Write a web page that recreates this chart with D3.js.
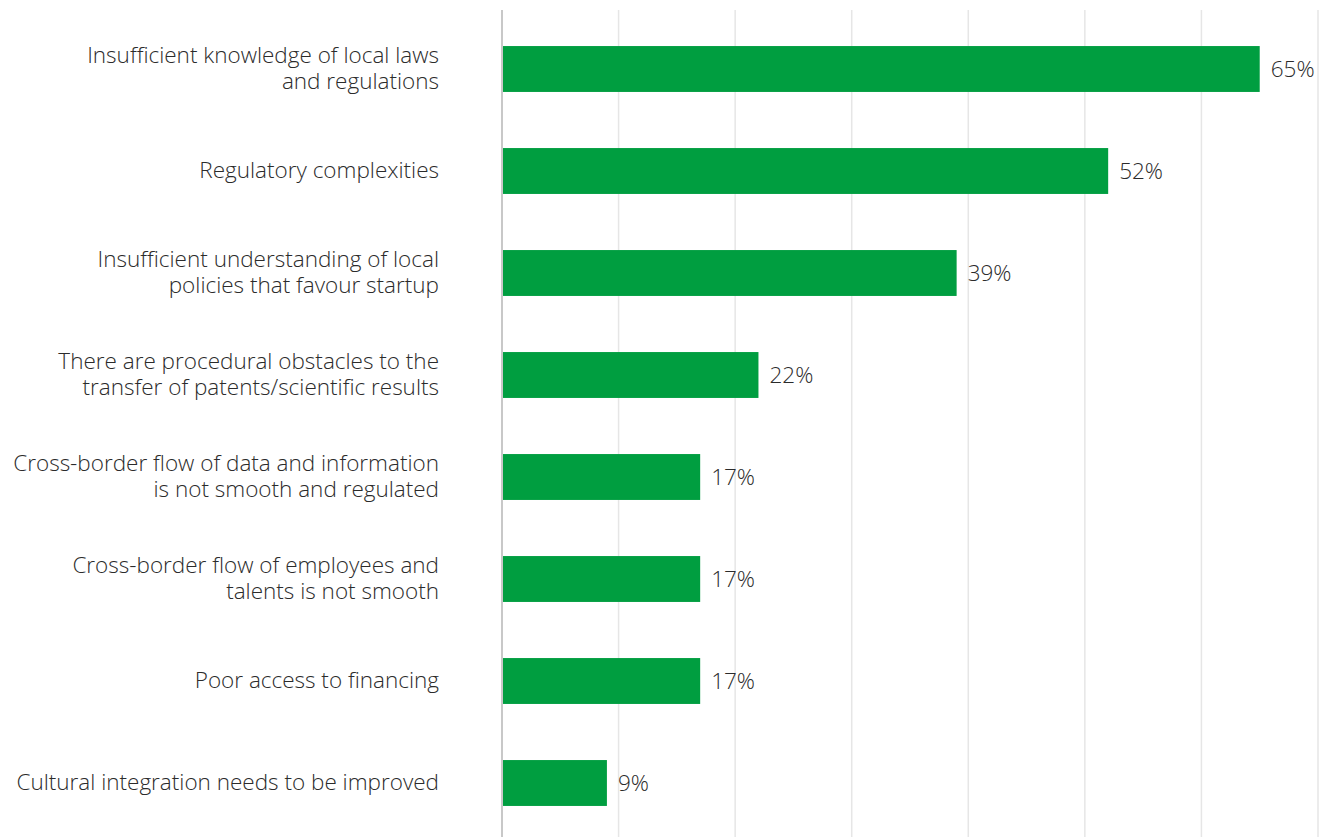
<!DOCTYPE html>
<html>
<head>
<meta charset="utf-8">
<script src="https://cdn.jsdelivr.net/npm/d3@7"></script>
<style>
  html, body { margin: 0; padding: 0; background: #fff; }
  svg { display: block; }
  text { font-family: "Open Sans", "Noto Sans", sans-serif; font-weight: 300; fill: #2b2b2b; }
</style>
</head>
<body>
<svg id="chart" width="1327" height="837"></svg>
<script>
// Obstacles reported, share of respondents (%)
const categories = [
  ["Insufficient knowledge of local laws", "and regulations"],
  ["Regulatory complexities"],
  ["Insufficient understanding of local", "policies that favour startup"],
  ["There are procedural obstacles to the", "transfer of patents/scientific results"],
  ["Cross-border flow of data and information", "is not smooth and regulated"],
  ["Cross-border flow of employees and", "talents is not smooth"],
  ["Poor access to financing"],
  ["Cultural integration needs to be improved"]
];
const values = [65, 52, 39, 22, 17, 17, 17, 9];
const gridTicks = [10, 20, 30, 40, 50, 60, 70];

const svg = d3.select("#chart");
const x0 = 502, x1 = 1318;
const fontPx = 22.5;

const x = d3.scaleLinear().domain([0, 70]).range([x0, x1]);
const y = d3.scaleBand()
  .domain(d3.range(categories.length))
  .range([18, 834])
  .paddingInner(0.55)
  .paddingOuter(0.275);

// vertical gridlines
svg.append("g")
  .selectAll("line")
  .data(gridTicks)
  .join("line")
  .attr("x1", d => x(d)).attr("x2", d => x(d))
  .attr("y1", 10).attr("y2", 837)
  .attr("stroke", "#e6e6e6")
  .attr("stroke-width", 1.5);

// bars
svg.append("g")
  .selectAll("rect")
  .data(values)
  .join("rect")
  .attr("x", x(0))
  .attr("y", (d, i) => y(i))
  .attr("width", d => x(d) - x(0))
  .attr("height", y.bandwidth())
  .attr("fill", "#009e40");

// baseline axis
svg.append("line")
  .attr("x1", x0).attr("x2", x0)
  .attr("y1", 10).attr("y2", 837)
  .attr("stroke", "#c8c8c8")
  .attr("stroke-width", 2);

// value labels
svg.append("g")
  .selectAll("text")
  .data(values)
  .join("text")
  .attr("x", d => x(d) + 11)
  .attr("y", (d, i) => y(i) + y.bandwidth() / 2 + 7.5)
  .style("font-size", fontPx + "px")
  .text(d => d + "%");

// category labels, centred on each bar
const lineH = 26;
const lab = svg.append("g")
  .selectAll("text")
  .data(categories)
  .join("text")
  .attr("text-anchor", "end")
  .style("font-size", fontPx + "px")
  .attr("y", (d, i) => y(i) + y.bandwidth() / 2 + 7.3);
lab.selectAll("tspan")
  .data(d => d.map((t, k) => ({ t, k, n: d.length })))
  .join("tspan")
  .attr("x", 439)
  .attr("dy", d => d.k === 0 ? (-(d.n - 1) / 2) * lineH : lineH)
  .text(d => d.t);
</script>
</body>
</html>
